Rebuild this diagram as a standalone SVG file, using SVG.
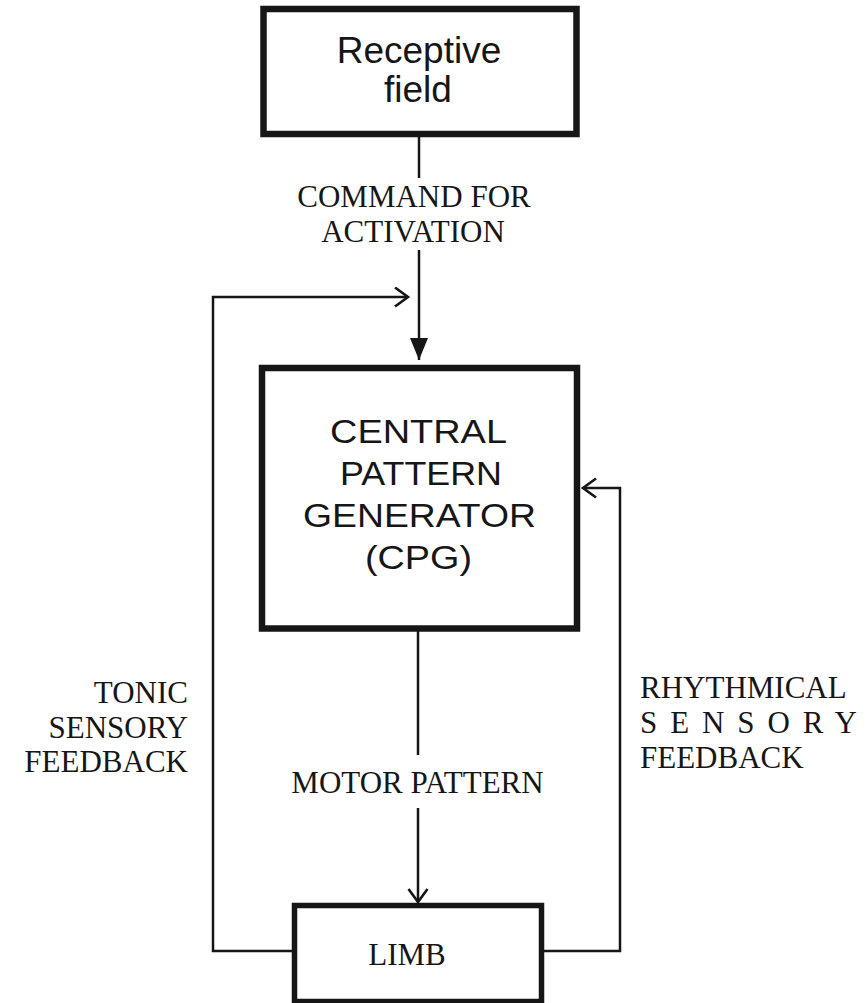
<svg xmlns="http://www.w3.org/2000/svg" width="867" height="1003" viewBox="0 0 867 1003">
  <style>
    .box { fill: none; stroke: #161616; stroke-width: 6.5; }
    .conn { fill: none; stroke: #161616; stroke-width: 2.5; }
    .sans { font-family: "Liberation Sans", Arial, sans-serif; fill: #161616; text-anchor: middle; }
    .serif { font-family: "Liberation Serif", "Times New Roman", serif; font-size: 31px; fill: #161616; }
  </style>
  <defs>
    <marker id="filled" markerUnits="userSpaceOnUse" markerWidth="24" markerHeight="20" refX="22" refY="9" orient="auto">
      <path d="M0,0 L22,9 L0,18 Z" fill="#161616"/>
    </marker>
    <marker id="open" markerUnits="userSpaceOnUse" markerWidth="20" markerHeight="26" refX="14" refY="10.5" orient="auto">
      <path d="M1,1 L14,10.5 L1,20" fill="none" stroke="#161616" stroke-width="2.6"/>
    </marker>
  </defs>
  <rect width="867" height="1003" fill="#ffffff"/>

  <g id="connectors">
    <path class="conn" d="M419,134 V178"/>
    <path class="conn" d="M419,250 V360" marker-end="url(#filled)"/>
    <path class="conn" d="M418,628 V755"/>
    <path class="conn" d="M418,808 V902" marker-end="url(#open)"/>
    <path class="conn" d="M292,951 H213 V297 H408" marker-end="url(#open)"/>
    <path class="conn" d="M544,951 H620 V488 H583" marker-end="url(#open)"/>
  </g>

  <g id="receptive-field">
    <rect class="box" x="263.5" y="9" width="313" height="125"/>
    <text class="sans" font-size="37" x="419" y="63">Receptive</text>
    <text class="sans" font-size="37" x="418" y="102">field</text>
  </g>

  <g id="cpg">
    <rect class="box" x="262" y="368" width="315" height="260.5"/>
    <text class="sans" font-size="33" x="418.5" y="443" textLength="177" lengthAdjust="spacingAndGlyphs">CENTRAL</text>
    <text class="sans" font-size="33" x="421" y="485" textLength="162" lengthAdjust="spacingAndGlyphs">PATTERN</text>
    <text class="sans" font-size="33" x="419.5" y="527" textLength="233" lengthAdjust="spacingAndGlyphs">GENERATOR</text>
    <text class="sans" font-size="33" x="418.5" y="569" textLength="107" lengthAdjust="spacingAndGlyphs">(CPG)</text>
  </g>

  <g id="limb">
    <rect x="294.5" y="905.5" width="247" height="96" fill="none" stroke="#161616" stroke-width="5.5"/>
    <text class="serif" x="407" y="965" text-anchor="middle">LIMB</text>
  </g>

  <g id="label-command">
    <text class="serif" x="414" y="207" text-anchor="middle">COMMAND FOR</text>
    <text class="serif" x="413" y="242" text-anchor="middle">ACTIVATION</text>
  </g>

  <g id="label-motor">
    <text class="serif" x="417.5" y="793" text-anchor="middle">MOTOR PATTERN</text>
  </g>

  <g id="label-tonic">
    <text class="serif" x="188" y="703" text-anchor="end">TONIC</text>
    <text class="serif" x="188" y="738" text-anchor="end">SENSORY</text>
    <text class="serif" x="188" y="772" text-anchor="end">FEEDBACK</text>
  </g>

  <g id="label-rhythmical">
    <text class="serif" x="640" y="698">RHYTHMICAL</text>
    <text class="serif" x="640" y="733" textLength="217" lengthAdjust="spacing">SENSORY</text>
    <text class="serif" x="640" y="768">FEEDBACK</text>
  </g>
</svg>
